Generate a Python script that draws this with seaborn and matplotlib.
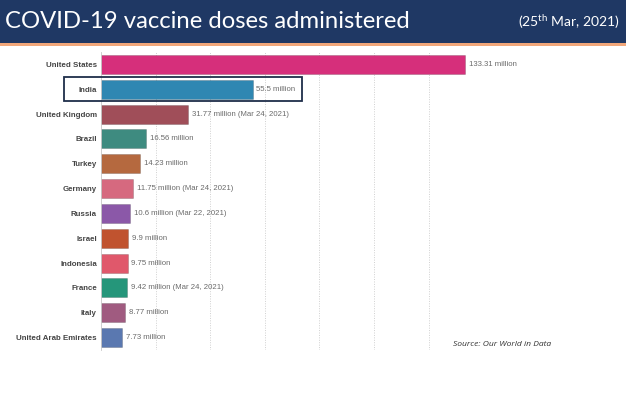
import numpy as np
import pandas as pd
import seaborn as sns
import matplotlib.pyplot as plt
from matplotlib.patches import Rectangle

countries = ['United States', 'India', 'United Kingdom', 'Brazil', 'Turkey', 'Germany',
             'Russia', 'Israel', 'Indonesia', 'France', 'Italy', 'United Arab Emirates']
doses = [133.31, 55.5, 31.77, 16.56, 14.23, 11.75, 10.6, 9.9, 9.75, 9.42, 8.77, 7.73]
labels = ['133.31 million', '55.5 million', '31.77 million (Mar 24, 2021)', '16.56 million',
          '14.23 million', '11.75 million (Mar 24, 2021)', '10.6 million (Mar 22, 2021)',
          '9.9 million', '9.75 million', '9.42 million (Mar 24, 2021)', '8.77 million',
          '7.73 million']
colors = ['#D62F7B', '#2F87B2', '#A04E59', '#3E8B80', '#B5693F', '#D6697F',
          '#8B58A8', '#C0532F', '#E0586B', '#25967A', '#A05B80', '#5A78B0']

df = pd.DataFrame({'country': countries, 'doses': doses})

sns.set_style('white')
plt.rcParams['font.family'] = ['Liberation Sans', 'DejaVu Sans']
plt.rcParams['mathtext.fontset'] = 'custom'
plt.rcParams['mathtext.rm'] = 'Lato'

fig = plt.figure(figsize=(6.26, 3.97), dpi=100)

# title banner
fig.patches.append(Rectangle((0, 1 - 43 / 397), 1, 43 / 397, transform=fig.transFigure,
                             facecolor='#1F3864', edgecolor='none', zorder=0))
fig.patches.append(Rectangle((0, 1 - 46 / 397), 1, 3 / 397, transform=fig.transFigure,
                             facecolor='#F2A77A', edgecolor='none', zorder=0))
fig.text(5 / 626, 1 - 21 / 397, 'COVID-19 vaccine doses administered', color='white',
         fontsize=17.2, family='Lato', va='center', ha='left')
fig.text(620 / 626, 1 - 22 / 397, '(25$^{\\rm th}$ Mar, 2021)', color='white',
         fontsize=10, family='Lato', va='center', ha='right')

ax = fig.add_axes([101 / 626, 1 - 350 / 397, 135 * 2.73 / 626, 298 / 397])
sns.barplot(data=df, x='doses', y='country', hue='country', palette=colors,
            legend=False, width=0.77, saturation=1, ax=ax,
            edgecolor='#00000030', linewidth=0.6)

ax.set_xlim(0, 135)
ax.set_ylim(11.5, -0.5)
ax.set_xticks([20, 40, 60, 80, 100, 120])
ax.set_xticklabels([])
ax.tick_params(axis='x', length=0)
ax.tick_params(axis='y', length=0, pad=3)
ax.grid(axis='x', color='#D0D0D0', linestyle=(0, (1, 1.5)), linewidth=0.7)
ax.set_axisbelow(True)
ax.set_xlabel('')
ax.set_ylabel('')
for s in ['top', 'right', 'bottom']:
    ax.spines[s].set_visible(False)
ax.spines['left'].set_color('#C8C8C8')
ax.spines['left'].set_linewidth(0.6)
for t in ax.get_yticklabels():
    t.set_fontweight('bold')
    t.set_fontsize(5.7)
    t.set_color('#444444')

for i, (v, lab) in enumerate(zip(doses, labels)):
    ax.text(v + 1.4, i, lab, va='center', ha='left', fontsize=5.6, color='#6A6A6A',
            clip_on=False)

# highlight box around India
ax.add_patch(Rectangle((-13.6, 1 - 0.49), 87.3, 0.98, fill=False, edgecolor='#1F2E4A',
                       linewidth=1.3, clip_on=False, zorder=5))

fig.text(453 / 626, 1 - 344 / 397, 'Source: Our World in Data', fontsize=6.1,
         style='italic', family='Open Sans', color='#333333', va='center', ha='left')

fig.savefig('out.png', dpi=100)
